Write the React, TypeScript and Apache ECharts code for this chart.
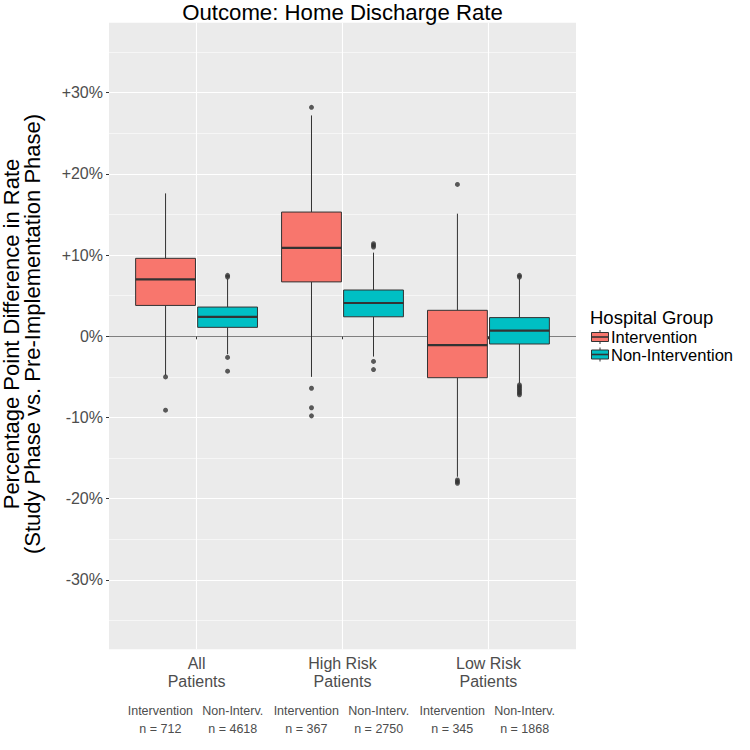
import React, { useEffect, useRef } from "react";
import * as echarts from "echarts";

const groups = ["All\nPatients", "High Risk\nPatients", "Low Risk\nPatients"];
const hospitalGroups = ["Intervention", "Non-Intervention"];
const countLabels = [
  "Intervention\nn = 712",
  "Non-Interv.\nn = 4618",
  "Intervention\nn = 367",
  "Non-Interv.\nn = 2750",
  "Intervention\nn = 345",
  "Non-Interv.\nn = 1868",
];
// [lower whisker, Q1, median, Q3, upper whisker] in percentage points
const interventionBoxes = [
  [-4.8, 3.8, 7.0, 9.6, 17.6],
  [-5.0, 6.7, 10.9, 15.3, 27.2],
  [-17.3, -5.1, -1.1, 3.2, 15.1],
];
const nonInterventionBoxes = [
  [-2.2, 1.1, 2.4, 3.6, 7.1],
  [-2.5, 2.4, 4.1, 5.7, 10.3],
  [-5.8, -0.95, 0.7, 2.3, 7.1],
];
const interventionOutliers = [
  [-5.0, -9.1],
  [28.2, -6.4, -8.8, -9.8],
  [18.7, -17.7, -17.9, -18.1],
];
const nonInterventionOutliers = [
  [7.3, 7.5, -2.6, -4.3],
  [11.0, 11.2, 11.4, -3.1, -4.1],
  [7.3, 7.5, -6.0, -6.2, -6.4, -6.6, -6.8, -7.0, -7.2],
];
const yTicks = [-30, -20, -10, 0, 10, 20, 30];
const yMinorTicks = [-35, -25, -15, -5, 5, 15, 25, 35];
const zeroLine = [0];

const COLORS = ["#F8766D", "#00BFC4"];
const DODGE = 0.2125;
const COUNT_DODGE = 0.248;
const BOX_W = 0.41;
const FONT = "Liberation Sans, Arial, Helvetica, sans-serif";
const Y_MIN = -38.55;
const Y_MAX = 38.62;

const offsets = [-DODGE, DODGE];
const countPositions: number[] = [];
groups.forEach((_, i) => [-COUNT_DODGE, COUNT_DODGE].forEach((o) => countPositions.push(i + 1 + o)));

function boxData(boxes: number[][], gi: number) {
  return boxes.map((b, i) => [i + 1 + offsets[gi], ...b]);
}
function outlierData(outs: number[][], gi: number) {
  const res: number[][] = [];
  outs.forEach((list, i) => list.forEach((v) => res.push([i + 1 + offsets[gi], v])));
  return res;
}

function makeRender(color: string) {
  return (params: any, api: any) => {
    const x = api.value(0);
    const lo = api.coord([x, api.value(1)]);
    const q1 = api.coord([x, api.value(2)]);
    const md = api.coord([x, api.value(3)]);
    const q3 = api.coord([x, api.value(4)]);
    const hi = api.coord([x, api.value(5)]);
    const w = api.size([BOX_W, 0])[0];
    const cx = lo[0];
    const ls = { stroke: "#333333", lineWidth: 1 };
    return {
      type: "group",
      children: [
        { type: "line", shape: { x1: cx, y1: hi[1], x2: cx, y2: q3[1] }, style: ls },
        { type: "line", shape: { x1: cx, y1: q1[1], x2: cx, y2: lo[1] }, style: ls },
        {
          type: "rect",
          shape: { x: cx - w / 2, y: q3[1], width: w, height: q1[1] - q3[1] },
          style: { fill: color, stroke: "#333333", lineWidth: 1 },
        },
        {
          type: "line",
          shape: { x1: cx - w / 2, y1: md[1], x2: cx + w / 2, y2: md[1] },
          style: { stroke: "#333333", lineWidth: 2.2 },
        },
      ],
    };
  };
}

function legendKey(cy: number, color: string) {
  return {
    type: "group",
    children: [
      { type: "line", shape: { x1: 600, y1: cy - 7, x2: 600, y2: cy + 7 }, style: { stroke: "#333", lineWidth: 1 } },
      { type: "rect", shape: { x: 591.5, y: cy - 4.5, width: 17, height: 9 }, style: { fill: color, stroke: "#333", lineWidth: 1 } },
      { type: "line", shape: { x1: 591.5, y1: cy, x2: 608.5, y2: cy }, style: { stroke: "#333", lineWidth: 1.6 } },
    ],
  };
}

export default function App() {
  const ref = useRef<HTMLDivElement>(null);
  useEffect(() => {
    if (!ref.current) return;
    const chart = echarts.init(ref.current, undefined, { renderer: "svg" });
    const option: any = {
      animation: false,
      backgroundColor: "#ffffff",
      textStyle: { fontFamily: FONT },
      grid: { left: 109, right: 174, top: 22.7, bottom: 100.7, containLabel: false },
      xAxis: [
        {
          type: "value",
          min: 0.4,
          max: 3.6,
          axisLine: { show: false },
          axisTick: { show: true, length: 3, lineStyle: { color: "#333333" }, customValues: [1, 2, 3] },
          axisLabel: {
            customValues: [1, 2, 3],
            formatter: (v: number) => groups[Math.round(v) - 1] || "",
            fontSize: 16,
            lineHeight: 18,
            color: "#4d4d4d",
            margin: 5,
            fontFamily: FONT,
          },
          splitLine: { show: true, lineStyle: { color: "#ffffff", width: 1.1 } },
        },
        {
          type: "value",
          min: 0.4,
          max: 3.6,
          position: "bottom",
          axisLine: { show: false },
          axisTick: { show: false },
          axisLabel: {
            customValues: countPositions,
            formatter: (v: number) => {
              const idx = countPositions.findIndex((p) => Math.abs(p - v) < 1e-6);
              return idx >= 0 ? countLabels[idx] : "";
            },
            fontSize: 12.5,
            lineHeight: 18.6,
            color: "#4d4d4d",
            margin: 52,
            fontFamily: FONT,
          },
          splitLine: { show: false },
        },
      ],
      yAxis: [
        {
          type: "value",
          min: Y_MIN,
          max: Y_MAX,
          axisLine: { show: false },
          axisTick: { show: true, length: 3, lineStyle: { color: "#333333" }, customValues: yTicks },
          axisLabel: {
            customValues: yTicks,
            formatter: (v: number) => (v > 0 ? "+" + v + "%" : v + "%"),
            fontSize: 16,
            color: "#4d4d4d",
            margin: 6,
            fontFamily: FONT,
          },
          splitLine: { show: true, lineStyle: { color: "#ffffff", width: 1.1 } },
        },
        {
          type: "value",
          min: Y_MIN,
          max: Y_MAX,
          axisLine: { show: false },
          axisTick: { show: false, customValues: yMinorTicks },
          axisLabel: { show: false, customValues: yMinorTicks },
          splitLine: { show: true, lineStyle: { color: "#ffffff", width: 0.55 } },
        },
        {
          type: "value",
          min: Y_MIN,
          max: Y_MAX,
          axisLine: { show: false },
          axisTick: { show: false, customValues: zeroLine },
          axisLabel: { show: false, customValues: zeroLine },
          splitLine: { show: true, lineStyle: { color: "#7f7f7f", width: 1 } },
        },
      ],
      graphic: [
        {
          type: "rect",
          z: -10,
          shape: { x: 109, y: 22.7, width: 467, height: 626.6 },
          style: { fill: "#EBEBEB" },
          silent: true,
        },
        {
          type: "text",
          x: 342.5,
          y: 12,
          style: {
            text: "Outcome: Home Discharge Rate",
            fontSize: 22.2,
            fill: "#000000",
            textAlign: "center",
            textVerticalAlign: "middle",
            fontFamily: FONT,
          },
        },
        {
          type: "text",
          x: 22,
          y: 334,
          rotation: Math.PI / 2,
          style: {
            text: "Percentage Point Difference in Rate\n(Study Phase vs. Pre-Implementation Phase)",
            fontSize: 22,
            lineHeight: 20.5,
            fill: "#000000",
            textAlign: "center",
            textVerticalAlign: "middle",
            fontFamily: FONT,
          },
        },
        {
          type: "text",
          x: 590,
          y: 317,
          style: { text: "Hospital Group", fontSize: 18.5, fill: "#000000", textVerticalAlign: "middle", fontFamily: FONT },
        },
        legendKey(337, COLORS[0]),
        legendKey(354.5, COLORS[1]),
        {
          type: "text",
          x: 611,
          y: 337,
          style: { text: hospitalGroups[0], fontSize: 16.5, fill: "#000000", textVerticalAlign: "middle", fontFamily: FONT },
        },
        {
          type: "text",
          x: 611,
          y: 354.5,
          style: { text: hospitalGroups[1], fontSize: 16.5, fill: "#000000", textVerticalAlign: "middle", fontFamily: FONT },
        },
      ],
      series: [
        {
          type: "custom",
          name: hospitalGroups[0],
          z: 3,
          renderItem: makeRender(COLORS[0]),
          encode: { x: 0, y: [1, 2, 3, 4, 5] },
          data: boxData(interventionBoxes, 0),
        },
        {
          type: "custom",
          name: hospitalGroups[1],
          z: 3,
          renderItem: makeRender(COLORS[1]),
          encode: { x: 0, y: [1, 2, 3, 4, 5] },
          data: boxData(nonInterventionBoxes, 1),
        },
        {
          type: "scatter",
          z: 4,
          symbolSize: 5,
          itemStyle: { color: "#333333" },
          data: outlierData(interventionOutliers, 0).concat(outlierData(nonInterventionOutliers, 1)),
        },
      ],
    };
    chart.setOption(option);
    return () => chart.dispose();
  }, []);
  return <div ref={ref} style={{ position: "fixed", left: 0, top: 0, width: 750, height: 750 }} />;
}
